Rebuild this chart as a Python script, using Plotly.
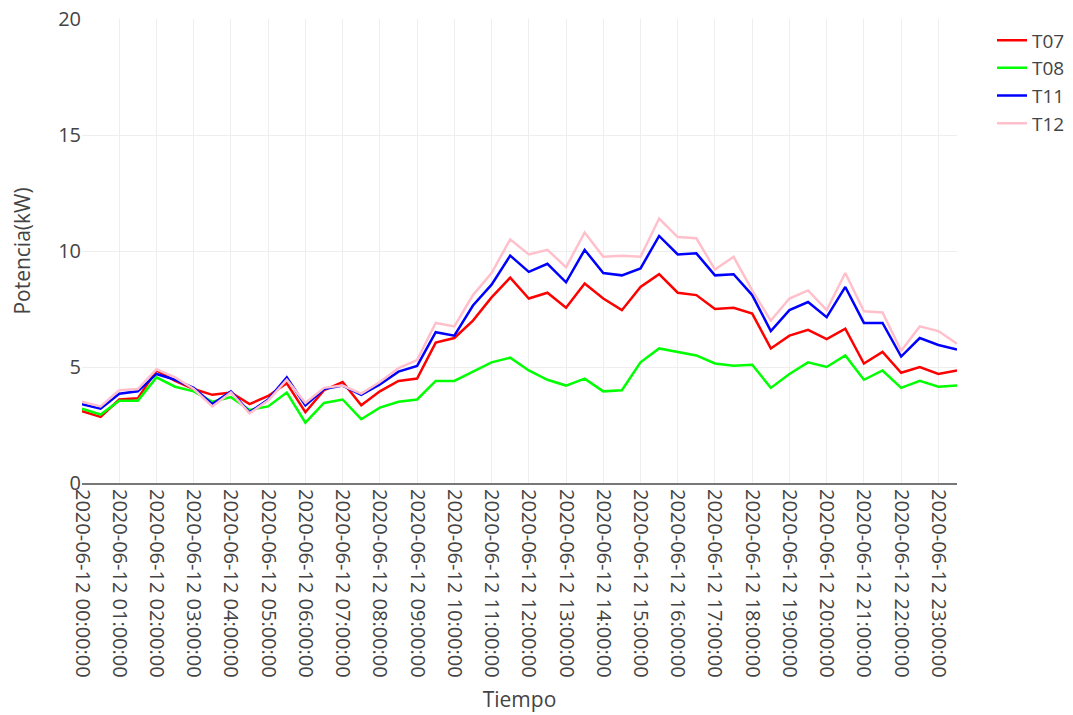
import pandas as pd
import plotly.graph_objects as go

tiempo = pd.date_range("2020-06-12 00:00:00", periods=48, freq="30min").strftime("%Y-%m-%d %H:%M:%S").tolist()

t07 = [3.1, 2.85, 3.6, 3.65, 4.85, 4.4, 4.05, 3.8, 3.9, 3.4, 3.75, 4.3,
       3.05, 4.0, 4.35, 3.35, 3.95, 4.4, 4.5, 6.05, 6.25, 7.0, 8.0, 8.85,
       7.95, 8.2, 7.55, 8.6, 7.95, 7.45, 8.45, 9.0, 8.2, 8.1, 7.5, 7.55,
       7.3, 5.8, 6.35, 6.6, 6.2, 6.65, 5.15, 5.65, 4.75, 5.0, 4.7, 4.85]
t08 = [3.2, 2.95, 3.55, 3.55, 4.55, 4.15, 3.95, 3.5, 3.7, 3.15, 3.3, 3.9,
       2.6, 3.45, 3.6, 2.75, 3.25, 3.5, 3.6, 4.4, 4.4, 4.8, 5.2, 5.4,
       4.85, 4.45, 4.2, 4.5, 3.95, 4.0, 5.2, 5.8, 5.65, 5.5, 5.15, 5.05,
       5.1, 4.1, 4.7, 5.2, 5.0, 5.5, 4.45, 4.85, 4.1, 4.4, 4.15, 4.2]
t11 = [3.4, 3.2, 3.85, 3.95, 4.7, 4.45, 4.1, 3.4, 3.95, 3.05, 3.6, 4.55,
       3.35, 4.05, 4.2, 3.8, 4.25, 4.8, 5.05, 6.5, 6.35, 7.65, 8.55, 9.8,
       9.1, 9.45, 8.65, 10.05, 9.05, 8.95, 9.25, 10.65, 9.85, 9.9, 8.95, 9.0,
       8.1, 6.55, 7.45, 7.8, 7.15, 8.45, 6.9, 6.9, 5.45, 6.25, 5.95, 5.75]
t12 = [3.5, 3.3, 4.0, 4.05, 4.9, 4.55, 4.05, 3.3, 3.9, 3.0, 3.55, 4.45,
       3.45, 4.1, 4.2, 3.85, 4.35, 4.95, 5.3, 6.9, 6.75, 8.1, 9.05, 10.5,
       9.85, 10.05, 9.3, 10.8, 9.75, 9.8, 9.75, 11.4, 10.6, 10.55, 9.2, 9.75,
       8.3, 7.0, 7.95, 8.3, 7.45, 9.05, 7.4, 7.35, 5.7, 6.75, 6.55, 6.0]

series = {"T07": (t07, "red"), "T08": (t08, "lime"), "T11": (t11, "blue"), "T12": (t12, "pink")}

fig = go.Figure()
for name, (vals, color) in series.items():
    fig.add_trace(go.Scatter(x=tiempo, y=vals, mode="lines", name=name,
                             line=dict(color=color, width=2.5)))

fig.update_layout(
    width=1073, height=715,
    template="plotly_white",
    font=dict(family="Open Sans", size=20, color="#444"),
    margin=dict(l=74, r=124, t=11, b=240),
    legend=dict(font=dict(size=19), x=1.04, y=0.995, tracegroupgap=0),
    xaxis=dict(
        title=dict(text="Tiempo", font=dict(size=21), standoff=16),
        type="date", tickformat="%Y-%m-%d %H:%M:%S", dtick=3600000,
        tickangle=90, gridcolor="#eeeeee", showline=True,
        linecolor="#777777", linewidth=2, zeroline=False, automargin=False,
    ),
    yaxis=dict(
        title=dict(text="Potencia(kW)", font=dict(size=21), standoff=23),
        range=[0, 20], dtick=5, gridcolor="#eeeeee", zeroline=False,
        automargin=False, ticklabeloverflow="allow",
    ),
)

fig.write_html("out.html")
